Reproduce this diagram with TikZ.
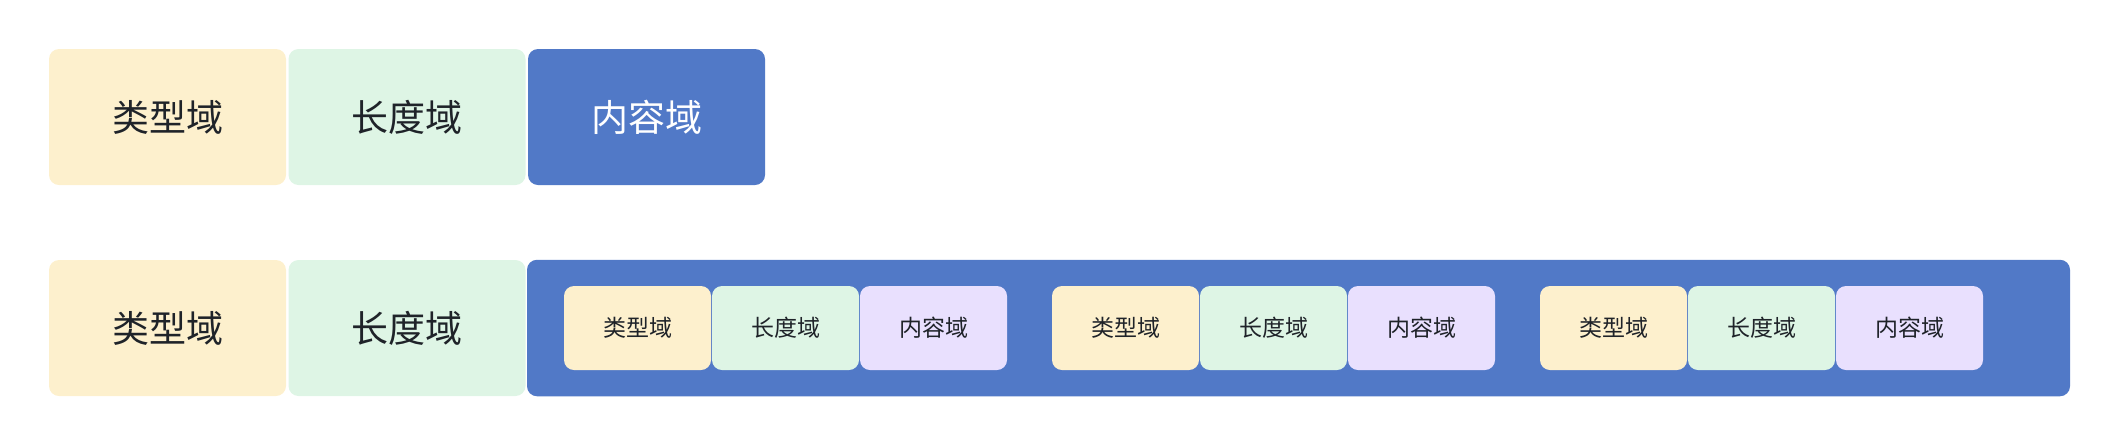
\documentclass[tikz,border=0pt]{standalone}
\usepackage{fontspec}
\newfontfamily\cjk{Noto Sans CJK SC}
\definecolor{typeyellow}{HTML}{FDF0CD}
\definecolor{lengreen}{HTML}{DEF5E5}
\definecolor{valblue}{HTML}{5179C7}
\definecolor{valpurple}{HTML}{E9E0FE}
\definecolor{inktext}{HTML}{1F2329}

\begin{document}
\begin{tikzpicture}[x=0.5pt,y=-0.5pt,
  field/.style={rounded corners=5pt,minimum width=118.5pt,minimum height=68pt,
    inner sep=0pt,font=\cjk\fontsize{18.5}{20}\selectfont,text=inktext},
  subfield/.style={rounded corners=5pt,minimum width=73.5pt,minimum height=42pt,
    inner sep=0pt,font=\cjk\fontsize{11.5}{13}\selectfont,text=inktext}]
  \useasboundingbox (0,0) rectangle (2120,446);
  % first row: plain TLV
  \node[field,fill=typeyellow] (t1) at (167.5,117) {类型域};
  \node[field,fill=lengreen]   (t2) at (407,117)   {长度域};
  \node[field,fill=valblue,text=white] (t3) at (646.5,117) {内容域};
  % second row: value holds nested TLVs
  \node[field,fill=typeyellow] (b1) at (167.5,328) {类型域};
  \node[field,fill=lengreen]   (b2) at (407,328)   {长度域};
  \node[field,fill=valblue,minimum width=771.5pt,minimum height=68.25pt] (b3) at (1298.5,328) {};
  \foreach \g in {0,1,2} {
    \node[subfield,fill=typeyellow] (s\g t) at (637.5+488*\g,328) {类型域};
    \node[subfield,fill=lengreen]   (s\g l) at (785.5+488*\g,328) {长度域};
    \node[subfield,fill=valpurple]  (s\g v) at (933.5+488*\g,328) {内容域};
  }
\end{tikzpicture}
\end{document}
